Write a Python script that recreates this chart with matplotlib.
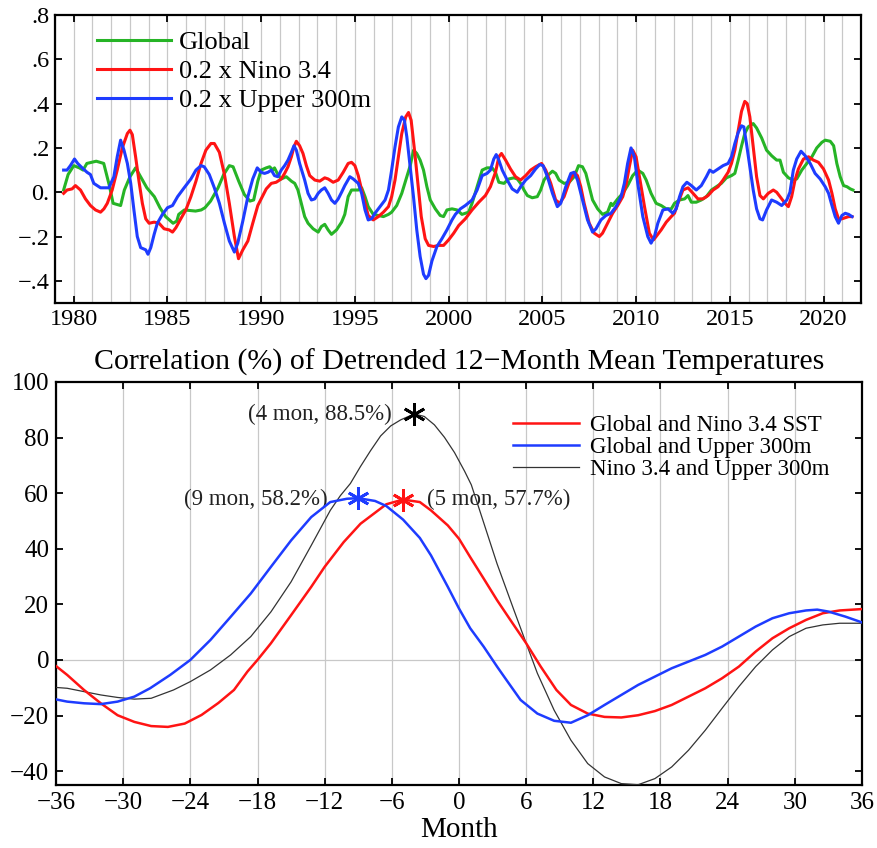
import matplotlib
matplotlib.use("Agg")
import matplotlib.pyplot as plt
import numpy as np

plt.rcParams['font.family'] = ['Liberation Serif', 'DejaVu Serif']
plt.rcParams['mathtext.fontset'] = 'stix'

# ---------------- Top panel data ----------------
green_years = [1979.46, 1979.7, 1980.0, 1980.3, 1980.5, 1980.7, 1981.2, 1981.6, 1981.9, 1982.1,
               1982.5, 1982.7, 1983.0, 1983.3, 1983.5, 1983.9, 1984.3, 1984.6, 1984.9, 1985.3,
               1985.5, 1985.6, 1985.9, 1986.5, 1986.8, 1987.0, 1987.3, 1987.7, 1988.0, 1988.3,
               1988.5, 1988.8, 1989.1, 1989.4, 1989.6, 1989.82, 1990.0, 1990.27, 1990.45, 1990.63,
               1990.71, 1990.89, 1991.07, 1991.34, 1991.61, 1991.79, 1991.96, 1992.14, 1992.32, 1992.5,
               1992.77, 1993.04, 1993.21, 1993.39, 1993.57, 1993.75, 1994.02, 1994.29, 1994.46, 1994.64,
               1994.82, 1995.0, 1995.18, 1995.36, 1995.54, 1995.71, 1995.98, 1996.25, 1996.52, 1996.79,
               1996.96, 1997.23, 1997.5, 1997.77, 1997.95, 1998.13, 1998.3, 1998.48, 1998.66, 1998.84,
               1999.02, 1999.29, 1999.55, 1999.73, 1999.91, 2000.18, 2000.45, 2000.71, 2001.07, 2001.25,
               2001.52, 2001.79, 2002.05, 2002.32, 2002.5, 2002.68, 2002.95, 2003.21, 2003.48, 2003.66,
               2003.84, 2004.02, 2004.2, 2004.46, 2004.73, 2004.91, 2005.09, 2005.27, 2005.54, 2005.71,
               2005.89, 2006.16, 2006.43, 2006.7, 2006.93, 2007.14, 2007.32, 2007.5, 2007.68, 2007.95,
               2008.21, 2008.48, 2008.66, 2008.75, 2009.02, 2009.29, 2009.55, 2009.82, 2010.09, 2010.36,
               2010.54, 2010.8, 2011.07, 2011.34, 2011.61, 2011.88, 2012.05, 2012.32, 2012.59, 2012.77,
               2012.95, 2013.21, 2013.48, 2013.75, 2014.02, 2014.29, 2014.55, 2014.82, 2015.09, 2015.27,
               2015.45, 2015.63, 2015.8, 2015.98, 2016.25, 2016.43, 2016.7, 2016.96, 2017.23, 2017.5,
               2017.68, 2017.86, 2018.13, 2018.39, 2018.57, 2018.84, 2019.11, 2019.38, 2019.64, 2019.91,
               2020.09, 2020.36, 2020.54, 2020.71, 2020.89, 2021.07, 2021.25, 2021.43, 2021.57]
green_vals = [0.01, 0.08, 0.12, 0.11, 0.10, 0.13, 0.14, 0.13, 0.03, -0.05,
              -0.06, 0.01, 0.07, 0.11, 0.08, 0.02, -0.02, -0.07, -0.11, -0.14,
              -0.13, -0.10, -0.08, -0.085, -0.08, -0.07, -0.04, 0.02, 0.08, 0.12,
              0.115, 0.05, -0.01, -0.04, -0.035, 0.05, 0.10, 0.11, 0.115, 0.10,
              0.11, 0.08, 0.06, 0.07, 0.05, 0.04, 0.01, -0.05, -0.11, -0.14,
              -0.165, -0.18, -0.155, -0.145, -0.17, -0.19, -0.17, -0.135, -0.10, -0.02,
              0.01, 0.01, 0.01, 0.02, -0.02, -0.065, -0.10, -0.105, -0.11, -0.10,
              -0.09, -0.06, -0.005, 0.07, 0.12, 0.19, 0.175, 0.145, 0.10, 0.025,
              -0.035, -0.075, -0.105, -0.11, -0.08, -0.075, -0.08, -0.10, -0.09, -0.05,
              0.025, 0.10, 0.11, 0.11, 0.09, 0.045, 0.04, 0.06, 0.065, 0.06,
              0.04, 0.01, -0.015, -0.025, -0.02, 0.01, 0.055, 0.075, 0.095, 0.085,
              0.055, 0.04, 0.045, 0.07, 0.12, 0.115, 0.085, 0.025, -0.035, -0.075,
              -0.10, -0.09, -0.05, -0.06, -0.03, -0.005, 0.03, 0.075, 0.10, 0.085,
              0.055, -0.005, -0.05, -0.06, -0.075, -0.075, -0.05, -0.035, -0.03, -0.015,
              -0.045, -0.045, -0.035, -0.02, 0.01, 0.025, 0.04, 0.065, 0.075, 0.085,
              0.145, 0.21, 0.265, 0.295, 0.31, 0.29, 0.245, 0.19, 0.165, 0.145,
              0.145, 0.09, 0.065, 0.055, 0.06, 0.10, 0.13, 0.16, 0.20, 0.225,
              0.235, 0.23, 0.21, 0.13, 0.07, 0.03, 0.025, 0.015, 0.01]

nino_years = [1979.46, 1979.64, 1979.91, 1980.09, 1980.36, 1980.625, 1980.89, 1981.16, 1981.43, 1981.61,
              1981.79, 1982.05, 1982.32, 1982.59, 1982.86, 1983.0, 1983.125, 1983.3, 1983.48, 1983.66,
              1983.84, 1984.02, 1984.29, 1984.55, 1984.82, 1985.09, 1985.27, 1985.45, 1985.71, 1985.98,
              1986.25, 1986.52, 1986.79, 1987.05, 1987.32, 1987.5, 1987.77, 1988.04, 1988.3, 1988.57,
              1988.79, 1989.02, 1989.29, 1989.55, 1989.82, 1990.0, 1990.27, 1990.54, 1990.8, 1991.07,
              1991.25, 1991.43, 1991.61, 1991.75, 1991.875, 1992.05, 1992.23, 1992.41, 1992.59, 1992.86,
              1993.125, 1993.39, 1993.57, 1993.84, 1994.11, 1994.375, 1994.64, 1994.82, 1995.0, 1995.18,
              1995.36, 1995.54, 1995.71, 1995.98, 1996.25, 1996.52, 1996.79, 1996.96, 1997.14, 1997.32,
              1997.5, 1997.71, 1997.86, 1998.0, 1998.18, 1998.36, 1998.54, 1998.75, 1998.93, 1999.2,
              1999.46, 1999.73, 2000.0, 2000.27, 2000.54, 2000.89, 2001.25, 2001.61, 2001.96, 2002.23,
              2002.5, 2002.68, 2002.82, 2003.04, 2003.3, 2003.57, 2003.84, 2004.11, 2004.375, 2004.64,
              2004.96, 2005.18, 2005.45, 2005.71, 2005.93, 2006.16, 2006.43, 2006.7, 2006.875, 2007.05,
              2007.23, 2007.5, 2007.77, 2008.04, 2008.21, 2008.48, 2008.75, 2009.02, 2009.29, 2009.46,
              2009.64, 2009.82, 2010.0, 2010.18, 2010.45, 2010.71, 2010.93, 2011.07, 2011.34, 2011.61,
              2011.875, 2012.05, 2012.23, 2012.5, 2012.77, 2013.04, 2013.3, 2013.57, 2013.84, 2014.11,
              2014.375, 2014.64, 2014.91, 2015.09, 2015.27, 2015.45, 2015.625, 2015.8, 2015.93, 2016.07,
              2016.25, 2016.43, 2016.61, 2016.79, 2017.05, 2017.32, 2017.5, 2017.68, 2017.95, 2018.125,
              2018.3, 2018.48, 2018.66, 2018.93, 2019.2, 2019.46, 2019.73, 2020.0, 2020.27, 2020.45,
              2020.625, 2020.8, 2020.98, 2021.16, 2021.34, 2021.52]
nino_vals = [-0.005, 0.01, 0.015, 0.03, 0.01, -0.03, -0.06, -0.08, -0.09, -0.075,
             -0.05, 0.01, 0.10, 0.20, 0.265, 0.28, 0.26, 0.16, 0.05, -0.05,
             -0.12, -0.14, -0.135, -0.14, -0.165, -0.17, -0.18, -0.16, -0.12, -0.08,
             -0.02, 0.05, 0.13, 0.19, 0.22, 0.22, 0.18, 0.08, -0.05, -0.20,
             -0.30, -0.26, -0.22, -0.14, -0.06, -0.03, 0.015, 0.04, 0.045, 0.06,
             0.085, 0.115, 0.16, 0.205, 0.23, 0.21, 0.175, 0.12, 0.075, 0.055,
             0.05, 0.065, 0.06, 0.045, 0.055, 0.09, 0.13, 0.135, 0.12, 0.075,
             0.01, -0.05, -0.105, -0.125, -0.11, -0.09, -0.065, -0.02, 0.055, 0.16,
             0.265, 0.34, 0.36, 0.325, 0.19, 0.04, -0.11, -0.21, -0.24, -0.245,
             -0.24, -0.24, -0.215, -0.185, -0.15, -0.12, -0.08, -0.045, -0.015, 0.025,
             0.09, 0.16, 0.175, 0.145, 0.105, 0.07, 0.055, 0.075, 0.10, 0.115,
             0.13, 0.10, 0.04, -0.035, -0.05, -0.02, 0.045, 0.09, 0.075, 0.025,
             -0.05, -0.14, -0.185, -0.20, -0.185, -0.14, -0.095, -0.06, -0.02, 0.03,
             0.115, 0.19, 0.16, 0.07, -0.065, -0.185, -0.215, -0.20, -0.17, -0.135,
             -0.11, -0.095, -0.05, 0.01, 0.02, -0.005, -0.03, -0.03, -0.015, 0.01,
             0.025, 0.055, 0.09, 0.13, 0.19, 0.28, 0.365, 0.41, 0.40, 0.34,
             0.205, 0.07, -0.015, -0.03, -0.005, 0.01, 0.00, -0.02, -0.05, -0.065,
             -0.02, 0.055, 0.105, 0.15, 0.16, 0.145, 0.135, 0.105, 0.055, -0.005,
             -0.075, -0.12, -0.12, -0.115, -0.11, -0.11]

upper_years = [1979.46, 1979.64, 1979.82, 1980.04, 1980.21, 1980.45, 1980.71, 1980.89, 1981.07, 1981.25,
               1981.43, 1981.7, 1981.875, 1982.14, 1982.32, 1982.5, 1982.68, 1982.86, 1983.04, 1983.21,
               1983.39, 1983.57, 1983.84, 1983.96, 1984.11, 1984.29, 1984.46, 1984.73, 1985.0, 1985.27,
               1985.54, 1985.89, 1986.25, 1986.52, 1986.79, 1986.96, 1987.23, 1987.5, 1987.77, 1988.04,
               1988.3, 1988.57, 1988.75, 1989.02, 1989.29, 1989.55, 1989.79, 1990.0, 1990.18, 1990.36,
               1990.54, 1990.71, 1990.89, 1991.07, 1991.25, 1991.43, 1991.61, 1991.75, 1991.875, 1992.05,
               1992.32, 1992.5, 1992.68, 1992.86, 1993.04, 1993.21, 1993.39, 1993.57, 1993.75, 1993.93,
               1994.11, 1994.29, 1994.46, 1994.73, 1994.91, 1995.18, 1995.36, 1995.54, 1995.71, 1995.89,
               1996.07, 1996.34, 1996.61, 1996.79, 1996.96, 1997.14, 1997.32, 1997.5, 1997.64, 1997.77,
               1997.95, 1998.125, 1998.3, 1998.48, 1998.66, 1998.79, 1998.93, 1999.11, 1999.375, 1999.64,
               1999.91, 2000.18, 2000.36, 2000.625, 2000.89, 2001.25, 2001.52, 2001.79, 2002.05, 2002.23,
               2002.41, 2002.54, 2002.68, 2002.86, 2003.125, 2003.39, 2003.66, 2003.84, 2004.11, 2004.375,
               2004.64, 2004.86, 2005.04, 2005.27, 2005.54, 2005.8, 2005.98, 2006.25, 2006.52, 2006.7,
               2006.875, 2007.14, 2007.41, 2007.68, 2007.86, 2008.125, 2008.39, 2008.66, 2008.93, 2009.2,
               2009.375, 2009.55, 2009.73, 2009.91, 2010.09, 2010.36, 2010.625, 2010.8, 2010.98, 2011.16,
               2011.43, 2011.7, 2011.96, 2012.14, 2012.32, 2012.5, 2012.71, 2012.95, 2013.21, 2013.48,
               2013.75, 2013.93, 2014.11, 2014.375, 2014.64, 2014.91, 2015.09, 2015.27, 2015.45, 2015.625,
               2015.75, 2015.89, 2016.07, 2016.25, 2016.43, 2016.61, 2016.75, 2016.96, 2017.23, 2017.5,
               2017.77, 2018.04, 2018.21, 2018.39, 2018.57, 2018.8, 2019.02, 2019.29, 2019.55, 2019.82,
               2020.09, 2020.27, 2020.45, 2020.625, 2020.8, 2020.98, 2021.16, 2021.34, 2021.52]
upper_vals = [0.10, 0.10, 0.12, 0.15, 0.13, 0.11, 0.09, 0.08, 0.04, 0.03,
              0.02, 0.02, 0.02, 0.07, 0.16, 0.235, 0.19, 0.13, 0.04, -0.08,
              -0.20, -0.25, -0.26, -0.28, -0.25, -0.19, -0.14, -0.10, -0.07, -0.06,
              -0.02, 0.02, 0.06, 0.10, 0.12, 0.115, 0.08, 0.02, -0.05, -0.14,
              -0.22, -0.27, -0.23, -0.13, -0.02, 0.06, 0.11, 0.09, 0.085, 0.09,
              0.10, 0.075, 0.07, 0.10, 0.12, 0.145, 0.18, 0.21, 0.19, 0.13,
              0.055, -0.005, -0.035, -0.03, -0.005, 0.01, 0.02, -0.005, -0.035, -0.05,
              -0.03, 0.00, 0.03, 0.07, 0.06, 0.04, -0.005, -0.08, -0.125, -0.12,
              -0.095, -0.065, -0.035, 0.01, 0.10, 0.205, 0.295, 0.34, 0.325, 0.25,
              0.115, -0.02, -0.17, -0.29, -0.37, -0.39, -0.375, -0.31, -0.245, -0.21,
              -0.17, -0.125, -0.10, -0.075, -0.06, -0.035, 0.01, 0.075, 0.085, 0.10,
              0.15, 0.17, 0.145, 0.10, 0.055, 0.015, 0.00, 0.025, 0.055, 0.075,
              0.105, 0.125, 0.12, 0.07, -0.005, -0.065, -0.05, 0.025, 0.085, 0.09,
              0.055, -0.035, -0.125, -0.18, -0.165, -0.125, -0.105, -0.095, -0.065, -0.02,
              0.04, 0.13, 0.20, 0.16, 0.04, -0.11, -0.20, -0.23, -0.20, -0.14,
              -0.08, -0.075, -0.095, -0.075, -0.02, 0.025, 0.045, 0.03, 0.01, 0.03,
              0.07, 0.10, 0.09, 0.105, 0.12, 0.13, 0.16, 0.22, 0.27, 0.30,
              0.295, 0.22, 0.115, 0.01, -0.075, -0.12, -0.125, -0.08, -0.035, -0.045,
              -0.06, -0.035, 0.00, 0.10, 0.15, 0.185, 0.165, 0.13, 0.085, 0.06,
              0.025, -0.005, -0.06, -0.11, -0.14, -0.105, -0.095, -0.10, -0.11]

top_labels = ["Global", "0.2 x Nino 3.4", "0.2 x Upper 300m"]
top_yticks = [-0.4, -0.2, 0.0, 0.2, 0.4, 0.6, 0.8]
top_yticklabels = ["\u2212.4", "\u2212.2", "0.", ".2", ".4", ".6", ".8"]
top_xticks = [1980, 1985, 1990, 1995, 2000, 2005, 2010, 2015, 2020]

# ---------------- Bottom panel data ----------------
red_months = [-36, -35, -33.5, -32, -30.5, -29, -27.5, -26, -24.5, -23, -21.5, -20.1, -18.9, -18,
              -16.8, -15, -13.2, -12, -10.3, -8.8, -6.5, -5, -3.5, -2.5, -1, 0, 1, 2.2, 3.4, 4.6,
              6, 7.3, 8.7, 10, 11.5, 13, 14.5, 16, 17.5, 19, 20.5, 22, 23.5, 25, 26.5, 28, 29.5, 31,
              32.5, 34, 36]
red_corr = [-2.2, -5.4, -10.8, -15.6, -19.9, -22.3, -23.8, -24.1, -22.9, -19.8, -15.5, -10.8, -4.2, 0.0,
            6.0, 16.1, 26.3, 33.5, 42.4, 49.0, 56.0, 57.7, 56.8, 53.8, 48.4, 43.6, 37.0, 29.3, 21.5, 14.3,
            6.0, -2.4, -10.8, -16.2, -19.3, -20.5, -20.7, -19.9, -18.4, -16.2, -13.2, -10.2, -6.6, -2.4, 3.0, 7.8,
            11.4, 14.4, 16.8, 17.8, 18.3]

blue_months = [-36, -35, -33.5, -32, -30.5, -29, -27.6, -25.8, -24, -22.2, -20.4, -18.6, -16.8, -15,
               -13.2, -11.5, -10, -9, -7.5, -6.5, -5, -3.5, -2.5, -1, 0, 1, 2.2, 3.4, 4.2, 5.5,
               7, 8.5, 10, 11.5, 13, 14.5, 16, 17.5, 19, 20.5, 22, 23.5, 25, 26.5, 28, 29.5, 31,
               32, 33, 34.5, 36]
blue_corr = [-14.2, -15.0, -15.6, -15.9, -15.0, -13.2, -10.2, -5.4, 0.0, 7.2, 15.5, 23.9, 33.5, 43.0,
             51.4, 56.8, 58.0, 58.2, 57.2, 55.4, 50.5, 43.9, 37.6, 26.3, 18.5, 11.4, 4.8, -2.4, -7.0, -14.4,
             -19.3, -21.9, -22.6, -19.9, -16.2, -12.6, -9.0, -6.0, -3.0, -0.6, 1.8, 4.8, 8.4, 12.0, 15.0, 16.8,
             17.8, 18.1, 17.4, 15.6, 13.5]

black_months = [-36, -35, -33.5, -32, -30.5, -29, -27.5, -25.5, -24, -22.2, -20.4, -18.6, -16.8, -15,
                -13.2, -11.5, -10.6, -9.7, -8.8, -7.9, -7.0, -6.1, -5.2, -4, -3.1, -2.2, -1.3, -0.4,
                0.5, 1.1, 1.8, 3.4, 4.9, 6, 7, 8.5, 10, 11.5, 13, 14.5, 16, 17.5, 19, 20.5, 22, 23.5,
                25, 26.5, 28, 29.5, 31, 32.5, 34, 36]
black_corr = [-9.9, -10.2, -11.4, -12.6, -13.5, -14.1, -13.8, -10.8, -7.8, -3.6, 1.8, 8.4, 17.3, 28.1,
              41.2, 53.8, 59.1, 63.5, 69.6, 75.3, 80.6, 84.2, 86.4, 88.5, 87.6, 84.6, 80.1, 74.6,
              67.9, 63.0, 54.4, 34.6, 18.0, 6.0, -4.8, -18.1, -28.9, -37.3, -42.1, -44.5, -44.9, -42.7,
              -38.5, -32.5, -25.3, -17.4, -9.6, -2.4, 3.6, 8.4, 11.4, 12.6, 13.2, 13.2]

bottom_labels = ["Global and Nino 3.4 SST", "Global and Upper 300m", "Nino 3.4 and Upper 300m"]
peak_month = [-5, -9, -4]
peak_value = [57.7, 58.2, 88.5]
peak_text = ["(5 mon, 57.7%)", "(9 mon, 58.2%)", "(4 mon, 88.5%)"]

GREEN = '#26b426'
RED = '#ff1414'
BLUE = '#1e3cff'

fig = plt.figure(figsize=(8.78, 8.48), dpi=100)
W, H = 878, 848

def ax_rect(l, t, r, b):
    return [l / W, 1 - b / H, (r - l) / W, (b - t) / H]

# ---------------- Top axes ----------------
ax1 = fig.add_axes(ax_rect(55, 15, 861, 303))
ax1.plot(green_years, green_vals, color=GREEN, lw=2.2, label=top_labels[0], zorder=3)
ax1.plot(nino_years, nino_vals, color=RED, lw=2.2, label=top_labels[1], zorder=4)
ax1.plot(upper_years, upper_vals, color=BLUE, lw=2.2, label=top_labels[2], zorder=5)
ax1.set_xlim(1979, 2022)
ax1.set_ylim(-0.5, 0.8)
ax1.set_xticks(top_xticks)
ax1.set_xticks(np.arange(1979, 2023), minor=True)
ax1.set_yticks(top_yticks)
ax1.set_yticklabels(top_yticklabels)
ax1.grid(True, which='both', axis='x', color='#c8c8c8', lw=0.9, zorder=0)
ax1.tick_params(which='major', direction='in', length=5, width=1.3, top=True, right=True,
                labelsize=17.5, pad=4)
ax1.tick_params(which='minor', length=0)
leg1 = ax1.legend(loc='upper left', bbox_to_anchor=(0.052, 0.945), frameon=False, fontsize=19,
                  handlelength=2.8, handletextpad=0.3, labelspacing=0.2, borderpad=0, borderaxespad=0)

# ---------------- Bottom axes ----------------
ax2 = fig.add_axes(ax_rect(56, 382, 862, 785))
ax2.plot(red_months, red_corr, color=RED, lw=1.8, label=bottom_labels[0], zorder=4)
ax2.plot(blue_months, blue_corr, color=BLUE, lw=1.8, label=bottom_labels[1], zorder=4)
ax2.plot(black_months, black_corr, color='#333333', lw=0.9, label=bottom_labels[2], zorder=3)
peak_colors = [RED, BLUE, 'black']
for m, v, c in zip(peak_month, peak_value, peak_colors):
    ax2.plot([m], [v], marker=(6, 2, 0), markersize=16, mew=2.0, color=c, zorder=6)
ax2.text(-2.9, 57.8, peak_text[0], ha='left', va='center', fontsize=16.5, color='#222222')
ax2.text(-11.7, 57.8, peak_text[1], ha='right', va='center', fontsize=16.5, color='#222222')
ax2.text(-6.0, 88.2, peak_text[2], ha='right', va='center', fontsize=16.5, color='#222222')
ax2.set_xlim(-36, 36)
ax2.set_ylim(-45, 100)
ax2.set_xticks(np.arange(-36, 37, 6))
ax2.set_yticks(np.arange(-40, 101, 20))
ax2.grid(True, axis='x', color='#c8c8c8', lw=0.9, zorder=0)
ax2.axhline(0, color='#c8c8c8', lw=0.9, zorder=1)
ax2.tick_params(direction='in', length=5, width=1.3, top=True, right=True, labelsize=18, pad=5)
ax2.set_xlabel("Month", fontsize=21, labelpad=2)
ax2.set_title("Correlation (%) of Detrended 12\u2212Month Mean Temperatures", fontsize=21.5, pad=9)
leg2 = ax2.legend(loc='upper left', bbox_to_anchor=(0.567, 0.918), frameon=False, fontsize=16.5,
                  handlelength=2.9, handletextpad=0.45, labelspacing=0.05, borderpad=0, borderaxespad=0)

for ax in (ax1, ax2):
    for s in ax.spines.values():
        s.set_linewidth(1.6)

fig.savefig("out.png", dpi=100)
